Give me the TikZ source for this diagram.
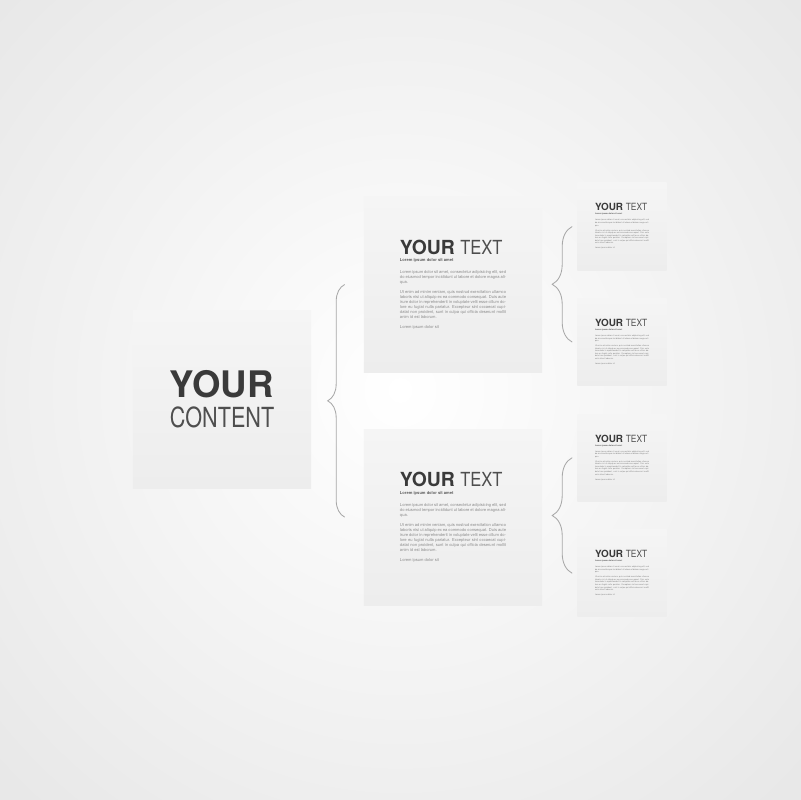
\documentclass[tikz,border=0pt]{standalone}
\usepackage{fontspec}
\setmainfont{TeX Gyre Heros}
\usepackage{graphicx}
\usetikzlibrary{positioning, decorations.pathreplacing}

\definecolor{ink}{HTML}{3A3A3A}
\definecolor{inklight}{HTML}{4E4E4E}
\definecolor{filler}{HTML}{8C8C8C}
\definecolor{boxtop}{HTML}{F5F5F5}
\definecolor{boxbottom}{HTML}{EDEDED}
\definecolor{bracegray}{HTML}{A8A8A8}

% headline plus dummy text, scaled by #1
\newcommand\blurb[1]{%
  \setlength\parskip{0pt}\tolerance=9999\emergencystretch=1em
  \fontsize{\fpeval{13.8*#1}}{\fpeval{10*#1}}\selectfont
  {\color{ink}\bfseries YOUR} {\color{inklight}\scalebox{0.85}[1]{TEXT}}\par
  \fontsize{\fpeval{2.9*#1}}{\fpeval{3.55*#1}}\selectfont
  \vspace{\fpeval{1.8*#1}pt}%
  {\color{ink!80}\bfseries Lorem ipsum dolor sit amet\par}
  \vspace{\fpeval{5*#1}pt}%
  {\color{filler}Lorem ipsum dolor sit amet, consectetur adipisicing elit,
  sed do eiusmod tempor incididunt ut labore et dolore magna aliqua.\par}
  \vspace{\fpeval{3.5*#1}pt}%
  {\color{filler}Ut enim ad minim veniam, quis nostrud exercitation
  ullamco laboris nisi ut aliquip ex ea commodo consequat. Duis aute irure
  dolor in reprehenderit in voluptate velit esse cillum dolore eu fugiat
  nulla pariatur. Excepteur sint occaecat cupidatat non proident, sunt in
  culpa qui officia deserunt mollit anim id est laborum.\par}
  \vspace{\fpeval{3.5*#1}pt}%
  {\color{filler}Lorem ipsum dolor sit\par}}

\begin{document}
\begin{tikzpicture}[x = 0.025cm, y = -0.025cm,
  card/.style = {top color = boxtop, bottom color = boxbottom,
    inner sep = 0pt},
  mainbox/.style = {card, minimum width = 4.45cm, minimum height = 4.425cm,
    text width = 2.6cm, align = left},
  midbox/.style = {card, minimum width = 4.45cm, minimum height = 4.4cm,
    text width = 2.65cm, align = justify},
  smallbox/.style = {card, minimum width = 2.225cm, minimum height = 2.175cm,
    text width = 1.35cm, align = justify},
  brace/.style = {draw = bracegray, line width = 0.6pt,
    decorate, decoration = {brace, amplitude = #1}},
  node distance = 1.4cm and 1cm]

  % background
  \useasboundingbox (0,0) rectangle (800,800);
  \shade[inner color = white, outer color = black!9]
    (-150,-170) rectangle (950,950);

  \node[mainbox, font = \fontsize{19.7}{21.3}\selectfont] (yc) at (222,399.5)
    {{\fontsize{26}{21.3}\selectfont\color{ink}\bfseries YOUR}\\
     {\color{inklight}\scalebox{0.78}[1]{CONTENT}}};

  \node[midbox] (ta) at (453,284.5) {\blurb{1}};
  \node[midbox, below = of ta] (tb) {\blurb{1}};

  \node[smallbox] (sa) at (622,226.5) {\blurb{0.51}};
  \node[smallbox, below = 0.7cm of sa] (sb) {\blurb{0.51}};
  \node[smallbox, below = 0.7cm of sb] (sc) {\blurb{0.51}};
  \node[smallbox, below = 0.7cm of sc] (sd) {\blurb{0.51}};

  \draw[brace = 0.425cm] ([xshift = -0.475cm]tb.west) -- ([xshift = -0.475cm]ta.west);
  \draw[brace = 0.5cm] ([xshift = -0.125cm]sb.west) -- ([xshift = -0.125cm]sa.west);
  \draw[brace = 0.5cm] ([xshift = -0.125cm]sd.west) -- ([xshift = -0.125cm]sc.west);
\end{tikzpicture}
\end{document}
